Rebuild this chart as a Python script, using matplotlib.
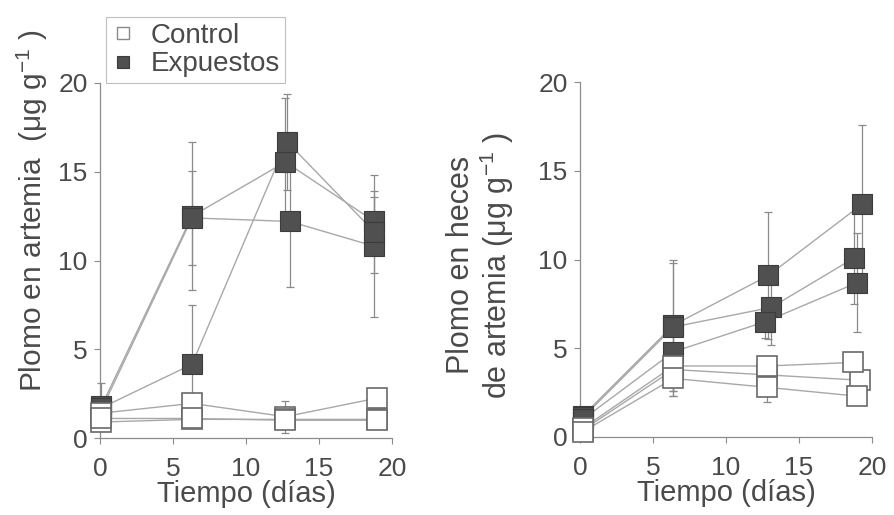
import numpy as np
import matplotlib
matplotlib.use('Agg')
import matplotlib.pyplot as plt
from matplotlib.lines import Line2D

plt.rcParams['font.family'] = ['Liberation Sans', 'DejaVu Sans']
plt.rcParams['mathtext.fontset'] = 'custom'
plt.rcParams['mathtext.rm'] = 'Liberation Sans'
plt.rcParams['mathtext.default'] = 'regular'

# --- data: lead in artemia (left panel) ---
art_exp_t = [[0.1, 6.3, 12.7, 18.8], [0.1, 6.3, 13.0, 18.8], [0.1, 6.3, 12.8, 18.8]]
art_exp_y = [[1.8, 12.5, 15.55, 12.2], [1.6, 12.4, 12.2, 10.8], [1.7, 4.15, 16.7, 11.6]]
art_exp_sd = [[1.3, 4.15, 3.6, 1.4], [0.5, 2.65, 3.7, 4.0], [0.5, 3.35, 2.7, 2.3]]
art_ctl_t = [[0.1, 6.3, 12.7, 19.0], [0.1, 6.3, 12.7, 19.0], [0.1, 6.3, 12.7, 19.0]]
art_ctl_y = [[1.4, 1.95, 1.2, 2.25], [0.9, 1.05, 1.05, 1.05], [1.1, 1.1, 1.0, 1.0]]
art_ctl_sd = [[0.4, 0.3, 0.9, 0.3], [0.3, 0.3, 0.2, 0.2], [0.3, 0.2, 0.2, 0.2]]

# --- data: lead in artemia faeces (right panel) ---
hec_exp_t = [[0.2, 6.4, 12.9, 19.3], [0.2, 6.4, 13.1, 18.8], [0.2, 6.4, 12.7, 19.0]]
hec_exp_y = [[1.2, 6.3, 9.1, 13.1], [1.1, 6.2, 7.3, 10.1], [1.0, 4.8, 6.5, 8.7]]
hec_exp_sd = [[0.3, 3.7, 3.6, 4.5], [0.3, 3.6, 2.1, 2.6], [0.3, 1.0, 0.9, 2.8]]
hec_ctl_t = [[0.2, 6.4, 12.8, 19.2], [0.2, 6.4, 12.8, 18.7], [0.2, 6.4, 12.8, 19.0]]
hec_ctl_y = [[0.4, 3.8, 3.5, 3.2], [0.5, 4.0, 4.0, 4.2], [0.3, 3.3, 2.8, 2.3]]
hec_ctl_sd = [[0.2, 1.5, 0.5, 0.6], [0.2, 0.6, 0.5, 0.5], [0.2, 1.0, 0.8, 0.4]]

xticks = [0, 5, 10, 15, 20]
yticks = [0, 5, 10, 15, 20]

GRAY = '#8c8c8c'
TXT = '#4a4a4a'
LINE = '#a8a8a8'
FILL = '#505050'


def draw_series(ax, t, y, sd, filled):
    ax.errorbar(t, y, yerr=sd, fmt='none', ecolor='#8a8a8a', elinewidth=0.9,
                capsize=3, capthick=0.9, zorder=2, clip_on=False)
    ax.plot(t, y, '-', color=LINE, lw=1.0, zorder=3, clip_on=False)
    if filled:
        ax.plot(t, y, 's', ms=14, mfc=FILL, mec='#3c3c3c', mew=0.8,
                ls='none', zorder=4, clip_on=False)
    else:
        ax.plot(t, y, 's', ms=14, mfc='white', mec='#6a6a6a', mew=1.2,
                ls='none', zorder=5, clip_on=False)


def style_axes(ax):
    ax.set_xlim(0, 20)
    ax.set_ylim(0, 20)
    ax.set_xticks(xticks)
    ax.set_yticks(yticks)
    for s in ['top', 'right']:
        ax.spines[s].set_visible(False)
    for s in ['left', 'bottom']:
        ax.spines[s].set_color(GRAY)
        ax.spines[s].set_linewidth(0.9)
    ax.tick_params(axis='both', direction='out', length=4, width=0.8,
                   color=GRAY, labelcolor=TXT, labelsize=19)
    ax.tick_params(axis='x', pad=10)
    ax.tick_params(axis='y', pad=5)
    ax.set_xlabel('Tiempo (días)', fontsize=21, color=TXT, labelpad=-1)


fig = plt.figure(figsize=(8.94, 5.15), dpi=100)
ax1 = fig.add_axes([100 / 894, 77 / 515, 292 / 894, 355 / 515])
ax2 = fig.add_axes([580 / 894, 78 / 515, 292 / 894, 355 / 515])

for ax, et, ey, esd, ct, cy, csd in [
        (ax1, art_exp_t, art_exp_y, art_exp_sd, art_ctl_t, art_ctl_y, art_ctl_sd),
        (ax2, hec_exp_t, hec_exp_y, hec_exp_sd, hec_ctl_t, hec_ctl_y, hec_ctl_sd)]:
    for t, y, sd in zip(et, ey, esd):
        draw_series(ax, t, y, sd, True)
    for t, y, sd in zip(ct, cy, csd):
        draw_series(ax, t, y, sd, False)
    style_axes(ax)

fig.text(0.036, 0.592, r'Plomo en artemia  ($\mu$g g$^{-1}$ )', rotation=90,
         ha='center', va='center', fontsize=21.5, color=TXT)
fig.text(0.538, 0.485, 'Plomo en heces\n' + r'de artemia ($\mu$g g$^{-1}$ )', rotation=90,
         ha='center', va='center', fontsize=22, color=TXT, linespacing=1.05,
         multialignment='center')

handles = [Line2D([], [], marker='s', ls='none', ms=9, mfc='white', mec='#8a8a8a', mew=1.0),
           Line2D([], [], marker='s', ls='none', ms=9, mfc=FILL, mec='#3c3c3c', mew=0.8)]
leg = fig.legend(handles, ['Control', 'Expuestos'], loc='lower left',
                 bbox_to_anchor=(106 / 894, 432 / 515), frameon=True, fancybox=False,
                 handlelength=0.8, handletextpad=0.6, borderpad=0.2, labelspacing=0.1,
                 borderaxespad=0, prop={'family': 'Liberation Sans', 'size': 20})
leg.get_frame().set_edgecolor('#b0b0b0')
leg.get_frame().set_linewidth(0.8)
for txt in leg.get_texts():
    txt.set_color(TXT)

fig.savefig('out.png', dpi=100)
